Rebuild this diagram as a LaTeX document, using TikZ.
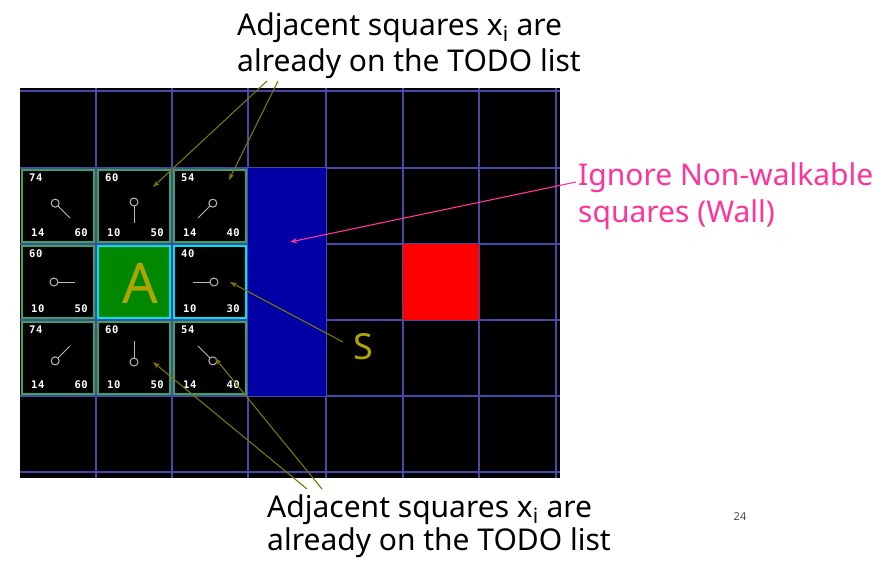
\documentclass[tikz,border=0pt]{standalone}
\usepackage{fontspec}
\setmainfont{Noto Sans}
\newfontfamily\pixfont[LetterSpace=6]{DejaVu Sans Mono}
\usetikzlibrary{arrows.meta}
\definecolor{gridc}{RGB}{72,72,170}
\definecolor{wallc}{RGB}{0,0,165}
\definecolor{cellgreen}{RGB}{60,165,85}
\definecolor{cellcyan}{RGB}{0,225,235}
\definecolor{agreen}{RGB}{0,135,0}
\definecolor{ayellow}{RGB}{175,165,0}
\definecolor{arrowolive}{RGB}{125,118,0}
\definecolor{hotpink}{RGB}{255,51,153}
\definecolor{ptrc}{RGB}{185,185,185}
\begin{document}
\begin{tikzpicture}[x=1pt,y=-1pt,
  gridline/.style={draw=gridc,line width=1.2pt},
  cellbox/.style={minimum size=72pt,line width=2pt,inner sep=0pt},
  num/.style={text=white,font=\pixfont\bfseries\fontsize{10.5}{10.5}\selectfont,inner sep=0pt},
  ptr/.style={draw=ptrc,line width=1pt},
  bigtext/.style={font=\fontsize{30}{30}\selectfont,inner sep=0pt},
  olivearrow/.style={draw=arrowolive,line width=1.1pt,-{Stealth[length=7pt,width=5pt]}},
  pinkarrow/.style={draw=hotpink,line width=1.1pt,-{Stealth[length=7pt,width=5pt]}}]
\useasboundingbox (0,0) rectangle (894,560);
\fill[white] (0,0) rectangle (894,560);
\fill[black] (20,88) rectangle (560,478);
\foreach \x in {96,172,248,326,403,479,556} \draw[gridline] (\x,88) -- (\x,478);
\foreach \y in {91,168,244,320,396,472} \draw[gridline] (20,\y) -- (560,\y);
\node[fill=wallc,minimum width=78pt,minimum height=228pt,inner sep=0pt] (wall) at (287,282) {};
\node[fill=red,minimum width=76pt,minimum height=76pt,inner sep=0pt] (target) at (441,282) {};
% start cell A
\node[cellbox,fill=agreen,draw=cellcyan,line width=2.5pt] (n12) at (134,282) {};
\node[text=ayellow,font=\fontsize{56}{56}\selectfont,inner sep=0pt] (A) at (140,283) {A};
% neighbour cells
\foreach \c/\r/\f/\g/\h/\dx/\dy/\bc in {
 0/1/74/14/60/1/1/cellgreen,
 1/1/60/10/50/0/1/cellgreen,
 2/1/54/14/40/-1/1/cellgreen,
 0/2/60/10/50/1/0/cellgreen,
 2/2/40/10/30/-1/0/cellcyan,
 0/3/74/14/60/1/-1/cellgreen,
 1/3/60/10/50/0/-1/cellgreen,
 2/3/54/14/40/-1/-1/cellgreen}{
  \pgfmathsetmacro\ux{\dx/veclen(\dx,\dy)}
  \pgfmathsetmacro\uy{\dy/veclen(\dx,\dy)}
  \node[cellbox,draw=\bc] (n\c\r) at ({58+76*\c},{130+76*\r}) {};
  \node[num,anchor=west] (f\c\r) at ([shift={(-29,-28)}]n\c\r.center) {\f};
  \node[num,anchor=west] (g\c\r) at ([shift={(-27,27)}]n\c\r.center) {\g};
  \node[num,anchor=east] (h\c\r) at ([shift={(30,27)}]n\c\r.center) {\h};
  \draw[ptr] ([shift={({-4*\ux},{-4*\uy})}]n\c\r.center) circle[radius=4pt];
  \draw[ptr] (n\c\r.center) -- ++({17*\ux},{17*\uy});
}
% texts
\node[bigtext,anchor=base west] (top1) at (237,35) {Adjacent squares x\textsubscript{i} are};
\node[bigtext,anchor=base west] (top2) at (237,71) {already on the TODO list};
\node[bigtext,anchor=base west] (bot1) at (267,517) {Adjacent squares x\textsubscript{i} are};
\node[bigtext,anchor=base west] (bot2) at (267,550) {already on the TODO list};
\node[bigtext,anchor=base west,text=hotpink] (pink1) at (578,185) {Ignore Non-walkable};
\node[bigtext,anchor=base west,text=hotpink] (pink2) at (578,222) {squares (Wall)};
\node[text=ayellow,font=\fontsize{36}{36}\selectfont,inner sep=0pt] (S) at (363,347) {S};
\node[text=black!70,font=\fontsize{11}{11}\selectfont,inner sep=0pt] (pg) at (740,517) {24};
% connectors
\coordinate (ta) at (267,81);
\coordinate (tb) at (278,81);
\coordinate (ba) at (307,489);
\coordinate (bb) at (322,489);
\coordinate (pa) at (576,182);
\coordinate (sa) at (343,342);
\draw[olivearrow] (ta) -- ([shift={(19,-19)}]n11.center);
\draw[olivearrow] (tb) -- ([shift={(19,-26)}]n21.center);
\draw[olivearrow] (ba) -- ([shift={(19,4)}]n13.center);
\draw[olivearrow] (bb) -- ([shift={(5,0)}]n23.center);
\draw[olivearrow] (sa) -- ([shift={(20,0)}]n22.center);
\draw[pinkarrow] (pa) -- ([shift={(3,-40)}]wall.center);
\end{tikzpicture}
\end{document}
